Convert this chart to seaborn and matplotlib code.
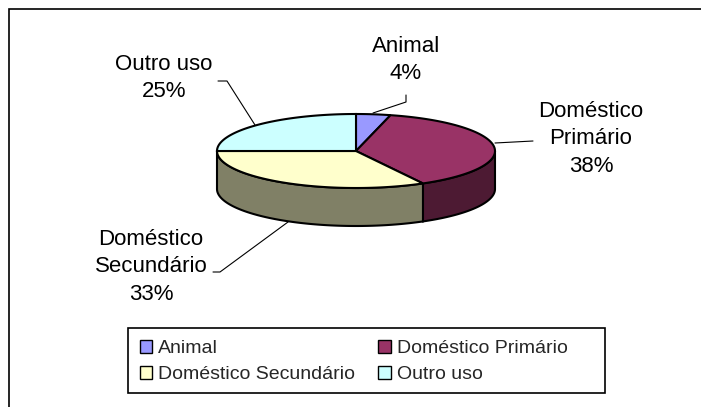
import numpy as np
import matplotlib.pyplot as plt
import seaborn as sns
from matplotlib.patches import Polygon, Patch, Rectangle

# data
categories = ["Animal", "Doméstico Primário", "Doméstico Secundário", "Outro uso"]
label_names = ["Animal", "Doméstico\nPrimário", "Doméstico\nSecundário", "Outro uso"]
shares = [4, 38, 33, 25]

top_colors = ["#9999FF", "#993366", "#FFFFCC", "#CCFFFF"]
side_colors = ["#4D4D80", "#4D1A33", "#808066", "#668080"]

sns.set_style("white")
plt.rcParams["font.family"] = ["Liberation Sans", "DejaVu Sans"]

fig = plt.figure(figsize=(7.01, 4.07), dpi=100)
ax = fig.add_axes([0, 0, 1, 1])
ax.set_xlim(0, 701)
ax.set_ylim(407, 0)
ax.axis("off")

# chart area frame (right/bottom fall outside the picture)
ax.plot([9, 9, 701], [407, 9, 9], color="black", lw=1.2, solid_joinstyle="miter")

# pseudo-3D pie: ellipse centre, radii, wall depth (pixels)
cx, cy, rx, ry, depth = 356, 151, 139, 37, 38


def rim(t0, t1, n=120, dy=0.0):
    t = np.radians(np.linspace(t0, t1, n))
    return np.column_stack([cx + rx * np.sin(t), cy - ry * np.cos(t) + dy])


total = sum(shares)
angles = np.concatenate([[0], np.cumsum(shares) / total * 360])

# side walls (only the front half faces the viewer)
for i in range(len(shares)):
    s0, s1 = max(angles[i], 90), min(angles[i + 1], 270)
    if s1 <= s0:
        continue
    upper = rim(s0, s1)
    lower = rim(s1, s0, dy=depth)
    ax.add_patch(Polygon(np.vstack([upper, lower]), closed=True,
                         facecolor=side_colors[i], edgecolor="black",
                         lw=1.5, zorder=1))

# top faces
for i in range(len(shares)):
    pts = np.vstack([[cx, cy], rim(angles[i], angles[i + 1])])
    ax.add_patch(Polygon(pts, closed=True, facecolor=top_colors[i],
                         edgecolor="black", lw=1.5, zorder=2))

# data labels and leader lines
label_pos = [(406, 60), (591, 139), (151, 267), (164, 78)]
leaders = [
    [(406, 95), (406, 102), (373, 113)],
    [(495, 143), (533, 141)],
    [(213, 272), (220, 272), (288, 222)],
    [(218, 81), (227, 81), (255, 125)],
]
for name, pct, (x, y), ln in zip(label_names, shares, label_pos, leaders):
    ax.text(x, y, f"{name}\n{pct}%", ha="center", va="center",
            multialignment="center", fontsize=16, linespacing=1.42,
            color="black")
    lx, ly = zip(*ln)
    ax.plot(lx, ly, color="black", lw=0.8, zorder=3)

# legend, filled row by row like the original
order = [0, 2, 1, 3]
handles = [Patch(facecolor=top_colors[i], edgecolor="black", lw=1.0) for i in order]
leg = ax.legend(handles, [categories[i] for i in order], ncol=2, loc="upper left",
                bbox_to_anchor=(128 / 701, 1 - 328 / 407),
                bbox_transform=fig.transFigure, frameon=False,
                fontsize=14, handlelength=0.65, handleheight=0.65,
                handletextpad=0.3, columnspacing=1.2, borderpad=0.6,
                labelspacing=0.45, borderaxespad=0)
ax.add_patch(Rectangle((128, 328), 477, 65, fill=False, edgecolor="black",
                       lw=1.2, zorder=4))

fig.savefig("out.png", dpi=100)
